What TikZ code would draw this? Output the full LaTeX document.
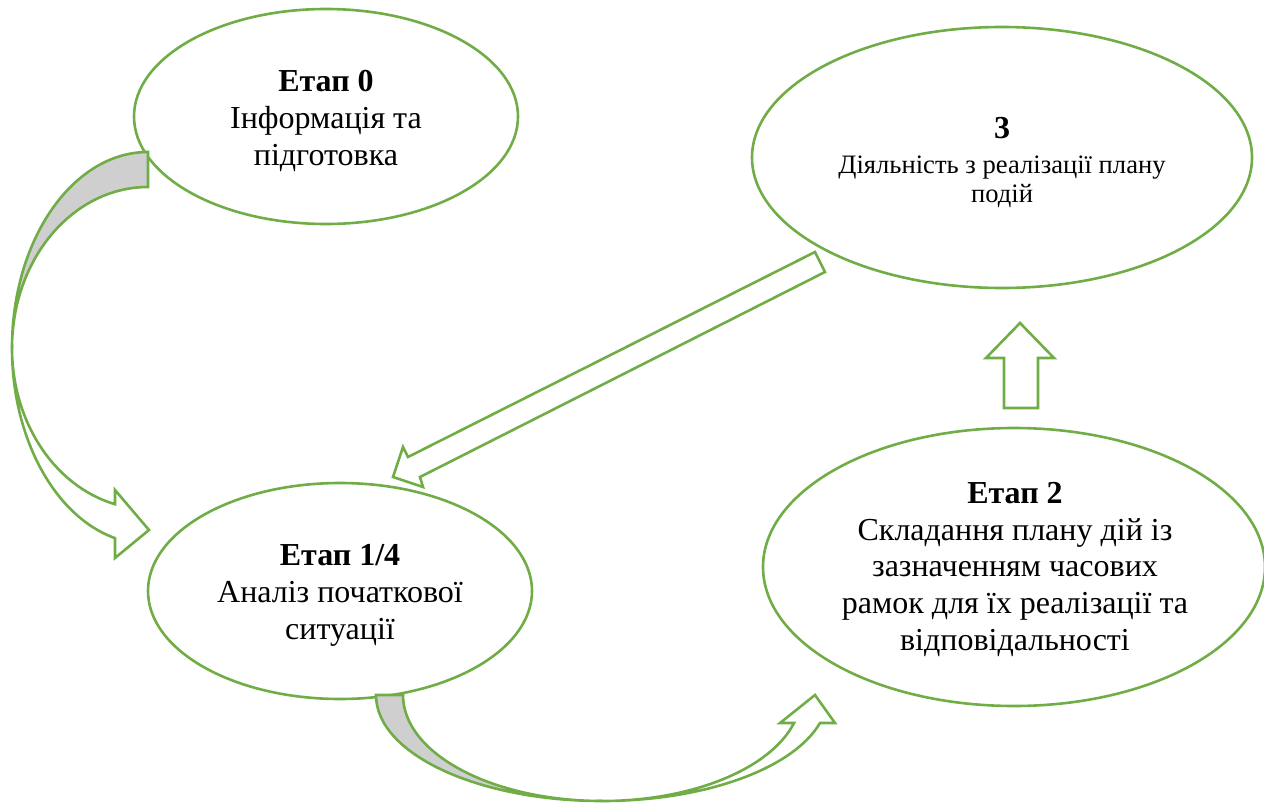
\documentclass[tikz,border=0pt]{standalone}
\usepackage{fontspec}
\setmainfont{Liberation Serif}
\usetikzlibrary{shapes.geometric}
\definecolor{grn}{HTML}{70AD47}
\definecolor{backside}{HTML}{CFCFCF}
\begin{document}
\begin{tikzpicture}[x=1pt,y=-1pt,
  stage/.style={ellipse, draw=grn, fill=white, line width=2.6pt, inner sep=0pt},
  blockarrow/.style={draw=grn, line width=2.6pt, line join=miter, fill=white},
  backface/.style={draw=grn, line width=2.6pt, line join=miter, fill=backside},
  stagetext/.style={align=center, anchor=base, inner sep=0pt, font=\fontsize{32}{36.6}\selectfont},
  smalltext/.style={align=center, anchor=base, inner sep=0pt, font=\fontsize{26.6}{29}\selectfont}]
\useasboundingbox (0,0) rectangle (1264,803);

% stages
\node[stage, minimum width=384pt, minimum height=215pt] (s0) at (326,116.5) {};
\node[stage, minimum width=384pt, minimum height=216pt] (s1) at (340,591) {};
\node[stage, minimum width=502pt, minimum height=278pt] (s2) at (1014,567) {};
\node[stage, minimum width=500pt, minimum height=261pt] (s3) at (1002,157.5) {};

% texts (anchored at baseline of last line)
\node[stagetext] (t0) at (326,165) {\textbf{Етап 0}\\Інформація та\\підготовка};
\node[stagetext] (t1) at (340,639) {\textbf{Етап 1/4}\\Аналіз початкової\\ситуації};
\node[stagetext] (t2) at (1015,650) {\textbf{Етап 2}\\Складання плану дій із\\зазначенням часових\\рамок для їх реалізації та\\відповідальності};
\node[smalltext] (t3) at (1002,202) {\fontsize{32}{30}\selectfont\textbf{3}\\[6pt]Діяльність з реалізації плану\\подій};

% curved arrow 0 -> 1/4 (left)
\draw[backface] (148,152) arc[start angle=-90, end angle=-180, x radius=136, y radius=196]
  arc[start angle=180, end angle=270, x radius=136, y radius=161] -- cycle;
\draw[blockarrow] (12,348) arc[start angle=180, end angle=104.04, x radius=136, y radius=196]
  -- (115,558) -- (149,530) -- (115,490) -- (115,504.2)
  arc[start angle=104.04, end angle=180, x radius=136, y radius=161] -- cycle;

% curved arrow 1/4 -> 2 (bottom)
\draw[backface] (376,695) arc[start angle=180, end angle=90, x radius=226, y radius=106]
  arc[start angle=90, end angle=180, x radius=199, y radius=106] -- cycle;
\draw[blockarrow] (602,801) arc[start angle=90, end angle=15.3, x radius=226, y radius=106]
  -- (835,723) -- (815,695) -- (780,723) -- (794,723)
  arc[start angle=15.3, end angle=90, x radius=199, y radius=106] -- cycle;

% straight arrow 3 -> 1/4
\draw[blockarrow] (815,252) -- (825,272) -- (420,477) -- (423,487) -- (393,477)
  -- (403,447) -- (408,457) -- cycle;

% up arrow 2 -> 3
\draw[blockarrow] (1004,408) -- (1004,358) -- (986,358) -- (1020,323) -- (1054,358)
  -- (1038,358) -- (1038,408) -- cycle;
\end{tikzpicture}
\end{document}
